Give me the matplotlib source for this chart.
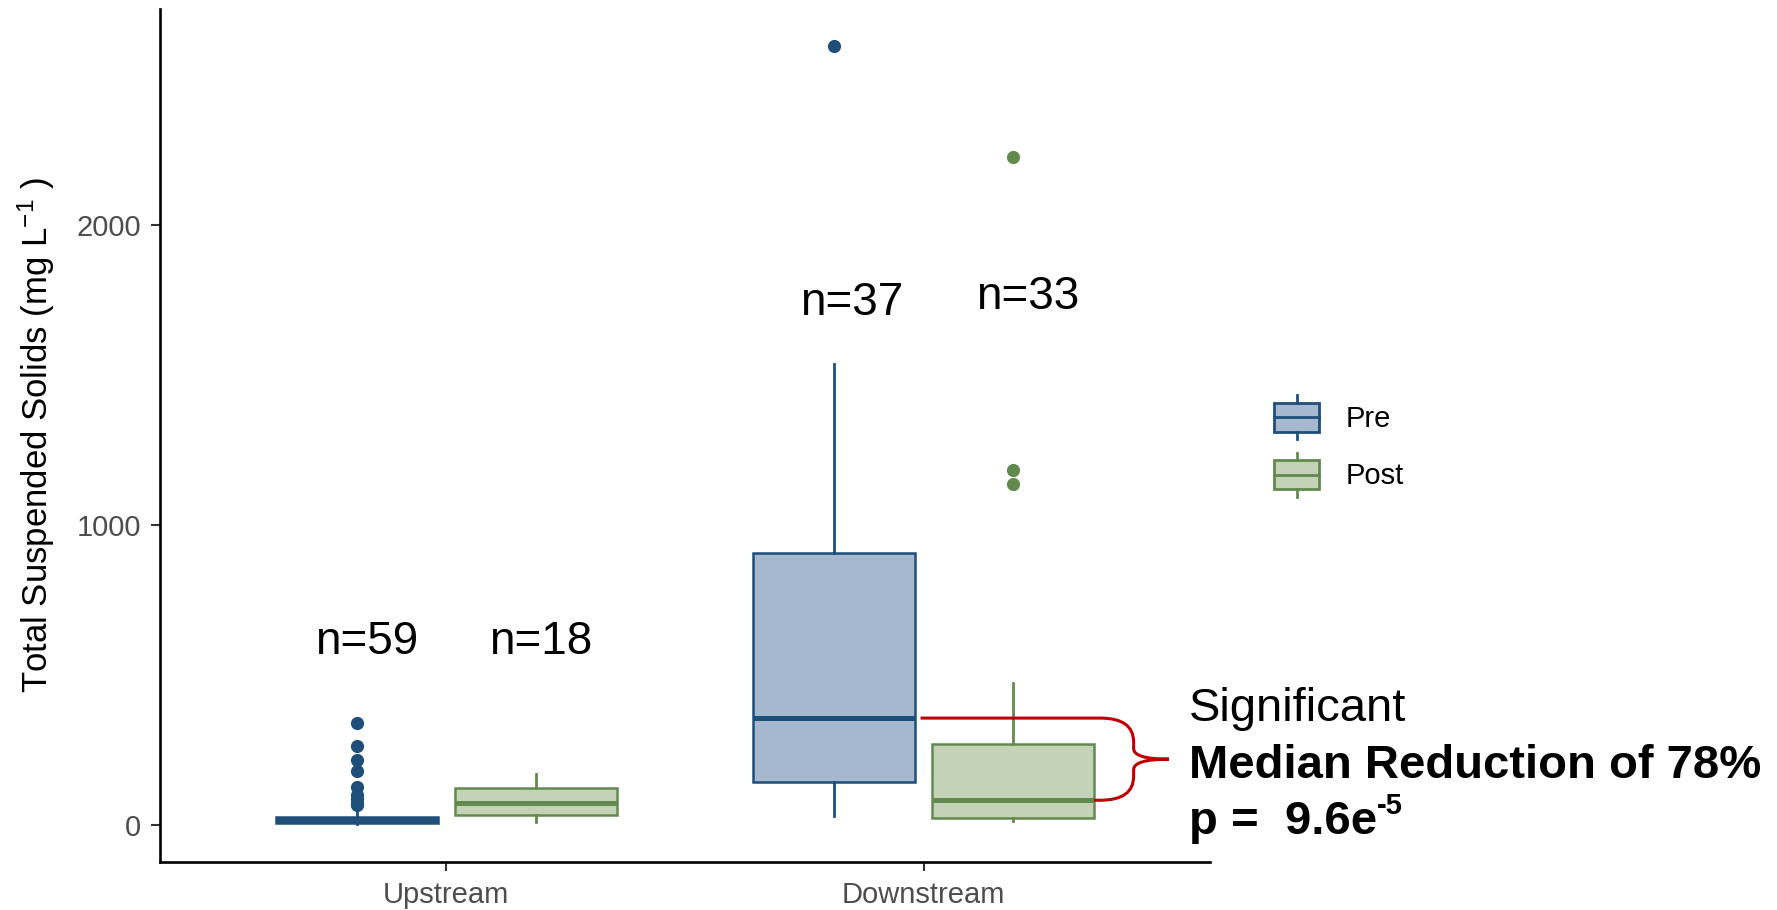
import matplotlib
matplotlib.use('Agg')
import matplotlib.pyplot as plt
from matplotlib.path import Path
from matplotlib.patches import PathPatch, Rectangle
from matplotlib.lines import Line2D
from matplotlib.legend_handler import HandlerBase
from matplotlib import font_manager

# ---------------- data ----------------
sites = ['Upstream', 'Downstream']
periods = ['Pre', 'Post']

pre_q1 = [8, 143]
pre_med = [18, 357]
pre_q3 = [28, 907]
pre_lo = [5, 30]
pre_hi = [60, 1539]
pre_fliers = [[341, 263, 217, 181, 127, 100, 88, 75, 67], [2600]]

post_q1 = [33, 23]
post_med = [73, 83]
post_q3 = [123, 272]
post_lo = [10, 15]
post_hi = [170, 473]
post_fliers = [[], [2229, 1184, 1137]]

n_pre = [59, 37]
n_post = [18, 33]
n_label_y_pre = [612, 1742]
n_label_y_post = [612, 1761]
n_label_dx_pre = [0.02, 0.037]
n_label_dx_post = [0.01, 0.03]

yticks = [0, 1000, 2000]
reduction_pct = 78
p_mantissa = '9.6e'
p_exponent = '-5'

# ---------------- style ----------------
pre_edge, pre_fill = '#1F4E79', '#A5B8CD'
post_edge, post_fill = '#638A4E', '#C4D2B8'
brace_color = '#C00000'

plt.rcParams['font.family'] = ['Liberation Sans', 'DejaVu Sans']
plt.rcParams['mathtext.fontset'] = 'custom'
plt.rcParams['mathtext.rm'] = 'Liberation Sans'
plt.rcParams['mathtext.it'] = 'Liberation Sans:italic'
plt.rcParams['mathtext.bf'] = 'Liberation Sans:bold'

available = {f.name for f in font_manager.fontManager.ttflist}
label_family = ['Liberation Sans Narrow', 'Liberation Sans'] if 'Liberation Sans Narrow' in available else ['Liberation Sans']

fig = plt.figure(figsize=(17.77, 9.10), dpi=100)
ax = fig.add_axes([160 / 1777, 48 / 910, 1050 / 1777, 853 / 910])

dodge = 0.1875
bw = 0.338


def make_stats(q1, med, q3, lo, hi, fl):
    return [dict(q1=a, med=b, q3=c, whislo=d, whishi=e, fliers=f)
            for a, b, c, d, e, f in zip(q1, med, q3, lo, hi, fl)]


groups = [
    (make_stats(pre_q1, pre_med, pre_q3, pre_lo, pre_hi, pre_fliers), -dodge, pre_edge, pre_fill),
    (make_stats(post_q1, post_med, post_q3, post_lo, post_hi, post_fliers), dodge, post_edge, post_fill),
]
for stats, off, ec, fc in groups:
    pos = [i + 1 + off for i in range(len(sites))]
    ax.bxp(stats, positions=pos, widths=bw, patch_artist=True, showcaps=False,
           manage_ticks=False,
           boxprops=dict(facecolor=fc, edgecolor=ec, linewidth=1.8),
           medianprops=dict(color=ec, linewidth=3.6, solid_capstyle='butt'),
           whiskerprops=dict(color=ec, linewidth=2.0),
           flierprops=dict(marker='o', markerfacecolor=ec, markeredgecolor=ec,
                           markersize=9.5, markeredgewidth=0))

# n labels
for i in range(len(sites)):
    ax.text(i + 1 - dodge + n_label_dx_pre[i], n_label_y_pre[i], f'n={n_pre[i]}', fontsize=33,
            ha='center', va='center')
    ax.text(i + 1 + dodge + n_label_dx_post[i], n_label_y_post[i], f'n={n_post[i]}', fontsize=33,
            ha='center', va='center')

# brace between downstream medians
y_top = pre_med[1]
y_bot = post_med[1]
ym = (y_top + y_bot) / 2
x_start = 2 - dodge + bw / 2 + 0.012
x_end = 2 + dodge + bw / 2
xa, xv, xt = 2.37, 2.44, 2.514
r = 80
verts = [(x_start, y_top), (xa, y_top),
         (xv, y_top), (xv, y_top - r),
         (xv, ym + 35),
         (xv, ym), (xt, ym),
         (xv, ym), (xv, ym - 35),
         (xv, y_bot + r),
         (xv, y_bot), (xa, y_bot),
         (x_end, y_bot)]
codes = [Path.MOVETO, Path.LINETO,
         Path.CURVE3, Path.CURVE3,
         Path.LINETO,
         Path.CURVE3, Path.CURVE3,
         Path.CURVE3, Path.CURVE3,
         Path.LINETO,
         Path.CURVE3, Path.CURVE3,
         Path.LINETO]
ax.add_patch(PathPatch(Path(verts, codes), facecolor='none', edgecolor=brace_color,
                       linewidth=2.2, clip_on=False, zorder=5))

# annotation text
tx = 2.556
ax.text(tx, 347, 'Significant', fontsize=34, ha='left', va='baseline', clip_on=False)
ax.text(tx, 158, f'Median Reduction of {reduction_pct}%', fontsize=34, fontweight='bold',
        ha='left', va='baseline', clip_on=False)
pt = ax.text(tx, -30, f'p =  {p_mantissa}', fontsize=34, fontweight='bold',
             ha='left', va='baseline', clip_on=False)
ax.annotate(p_exponent, xy=(1.0, 0.86), xycoords=pt, fontsize=21, fontweight='bold',
            ha='left', va='center', annotation_clip=False)

# axes
ax.set_xlim(0.4, 2.6)
ax.set_ylim(-123, 2722)
ax.set_xticks([1, 2])
ax.set_xticklabels(sites)
ax.set_yticks(yticks)
ax.set_yticklabels([str(v) for v in yticks])
for s in ['top', 'right']:
    ax.spines[s].set_visible(False)
for s in ['left', 'bottom']:
    ax.spines[s].set_linewidth(1.9)
    ax.spines[s].set_color('black')
ax.tick_params(axis='both', length=6.5, width=1.5, color='#333333', labelcolor='#4D4D4D',
               labelsize=21, pad=7)
ax.set_ylabel('Total Suspended Solids (mg L$^{-1}$ )', fontsize=25, family=label_family,
              color='black')
ax.yaxis.set_label_coords(-0.098, 0.5)


# legend
class BoxKey:
    def __init__(self, fc, ec):
        self.fc = fc
        self.ec = ec


class BoxHandler(HandlerBase):
    def create_artists(self, legend, orig_handle, xdescent, ydescent, width, height,
                       fontsize, trans):
        x0, y0 = -xdescent, -ydescent
        fr = 0.17
        rect = Rectangle((x0, y0 + fr * height), width, (1 - 2 * fr) * height,
                         facecolor=orig_handle.fc, edgecolor=orig_handle.ec,
                         linewidth=2.0, transform=trans)
        med = Line2D([x0, x0 + width], [y0 + height / 2] * 2, color=orig_handle.ec,
                     linewidth=2.0, transform=trans)
        w1 = Line2D([x0 + width / 2] * 2, [y0, y0 + fr * height], color=orig_handle.ec,
                    linewidth=2.0, transform=trans)
        w2 = Line2D([x0 + width / 2] * 2, [y0 + (1 - fr) * height, y0 + height],
                    color=orig_handle.ec, linewidth=2.0, transform=trans)
        return [rect, med, w1, w2]


keys = [BoxKey(pre_fill, pre_edge), BoxKey(post_fill, post_edge)]
fig.legend(keys, periods, handler_map={BoxKey: BoxHandler()},
           loc='center left', bbox_to_anchor=(1274 / 1777, 1 - 446 / 910),
           frameon=False, fontsize=21, handlelength=1.55, handleheight=1.95,
           handletextpad=0.9, labelspacing=0.45, borderpad=0, borderaxespad=0)

fig.savefig('out.png', dpi=100)
